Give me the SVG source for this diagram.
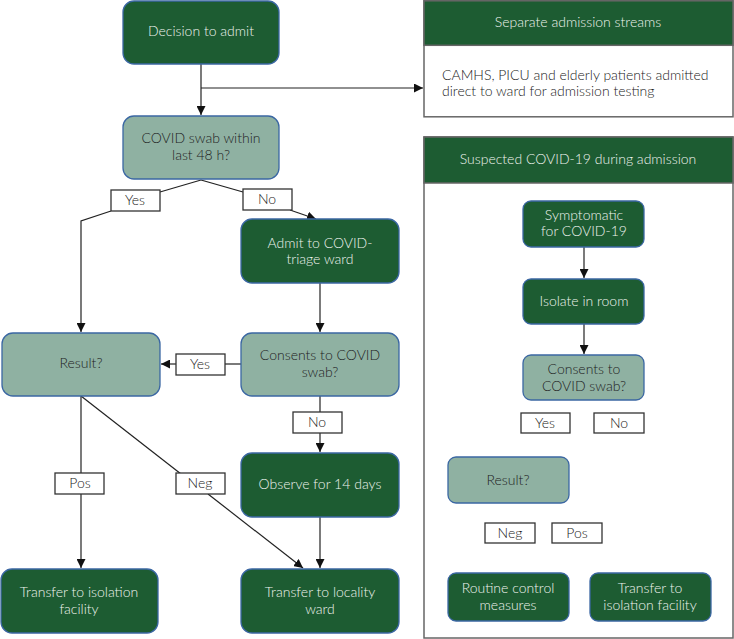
<svg xmlns="http://www.w3.org/2000/svg" width="734" height="639" viewBox="0 0 734 639">
<defs>
<marker id="ah" markerUnits="userSpaceOnUse" markerWidth="9" markerHeight="9" refX="9" refY="4.5" orient="auto" viewBox="0 0 9 9">
<path d="M0,0 L9,4.5 L0,9 z" fill="#111"/>
</marker>
<style>
text{font-family:Lato,"Open Sans","Liberation Sans",sans-serif;font-size:14px;font-weight:300;text-anchor:middle}
.dk rect{fill:#1d5c32;stroke:#3b67a3;stroke-width:1.3}
.dk text{fill:#eef3ee}
.lt rect{fill:#8fb1a2;stroke:#3b67a3;stroke-width:1.3}
.lt text{fill:#222}
.lb rect{fill:#fff;stroke:#333;stroke-width:1.3}
.lb text{fill:#222}
.pn rect.b{fill:#fff;stroke:#666;stroke-width:1.5}
.pn rect.h{fill:#1d5c32;stroke:#666;stroke-width:1.5}
.pn text.h{fill:#eef3ee}
.pn text.t{fill:#222;text-anchor:start}
#connectors path{fill:none;stroke:#222;stroke-width:1.2}
</style>
</defs>
<rect width="734" height="639" fill="#fff"/>

<g id="panel-separate" class="pn">
<rect class="b" x="424" y="0.8" width="309" height="116"/>
<rect class="h" x="424" y="0.8" width="309" height="44.5"/>
<text class="h" x="578" y="27">Separate admission streams</text>
<text class="t" x="442" y="80">CAMHS, PICU and elderly patients admitted</text>
<text class="t" x="442" y="96">direct to ward for admission testing</text>
</g>

<g id="panel-suspected" class="pn">
<rect class="b" x="424" y="137" width="309" height="501"/>
<rect class="h" x="424" y="137" width="309" height="46"/>
<text class="h" x="578" y="164">Suspected COVID-19 during admission</text>
</g>

<g id="connectors">
<path d="M201,64 V115" marker-end="url(#ah)"/>
<path d="M201,88 H423" marker-end="url(#ah)"/>
<path d="M201,180 L160,192"/>
<path d="M111,211 L81,221 V332" marker-end="url(#ah)"/>
<path d="M201,180 L243,192"/>
<path d="M290,210 L316,219" marker-end="url(#ah)"/>
<path d="M320,283 V332" marker-end="url(#ah)"/>
<path d="M241,364 H225"/>
<path d="M176,364 H161" marker-end="url(#ah)"/>
<path d="M320,396 V412"/>
<path d="M320,433 V452" marker-end="url(#ah)"/>
<path d="M320,517 V568" marker-end="url(#ah)"/>
<path d="M81,396 V473"/>
<path d="M81,494 V568" marker-end="url(#ah)"/>
<path d="M81,396 L181,474"/>
<path d="M208,494 L303,568" marker-end="url(#ah)"/>
<path d="M584,247 V278" marker-end="url(#ah)"/>
<path d="M584,324 V354" marker-end="url(#ah)"/>
</g>

<g id="decision" class="dk">
<rect x="123" y="1" width="156" height="63" rx="11"/>
<text x="201" y="36">Decision to admit</text>
</g>
<g id="swab48" class="lt">
<rect x="123" y="116" width="156" height="63" rx="11"/>
<text x="201" y="143">COVID swab within</text>
<text x="201" y="160">last 48 h?</text>
</g>
<g id="admit-triage" class="dk">
<rect x="241" y="219" width="158" height="64" rx="11"/>
<text x="320" y="248">Admit to COVID-</text>
<text x="320" y="264">triage ward</text>
</g>
<g id="result" class="lt">
<rect x="2" y="333" width="158" height="63" rx="11"/>
<text x="81" y="368">Result?</text>
</g>
<g id="consents" class="lt">
<rect x="241" y="333" width="158" height="63" rx="11"/>
<text x="320" y="360">Consents to COVID</text>
<text x="320" y="377">swab?</text>
</g>
<g id="observe" class="dk">
<rect x="241" y="453" width="158" height="64" rx="11"/>
<text x="320" y="489">Observe for 14 days</text>
</g>
<g id="transfer-isolation" class="dk">
<rect x="1" y="569" width="157" height="64" rx="11"/>
<text x="79" y="597">Transfer to isolation</text>
<text x="79" y="614">facility</text>
</g>
<g id="transfer-locality" class="dk">
<rect x="241" y="569" width="158" height="64" rx="11"/>
<text x="320" y="597">Transfer to locality</text>
<text x="320" y="614">ward</text>
</g>

<g id="lbl-yes1" class="lb"><rect x="111" y="190" width="49" height="21"/><text x="135" y="205">Yes</text></g>
<g id="lbl-no1" class="lb"><rect x="243" y="189" width="49" height="21"/><text x="267" y="204">No</text></g>
<g id="lbl-yes2" class="lb"><rect x="176" y="354" width="49" height="21"/><text x="200" y="369">Yes</text></g>
<g id="lbl-no2" class="lb"><rect x="293" y="412" width="49" height="21"/><text x="317" y="427">No</text></g>
<g id="lbl-pos1" class="lb"><rect x="55" y="473" width="49" height="21"/><text x="80" y="488">Pos</text></g>
<g id="lbl-neg1" class="lb"><rect x="176" y="473" width="49" height="21"/><text x="200" y="488">Neg</text></g>

<g id="symptomatic" class="dk">
<rect x="523" y="201" width="121" height="46" rx="8"/>
<text x="584" y="220">Symptomatic</text>
<text x="584" y="236">for COVID-19</text>
</g>
<g id="isolate" class="dk">
<rect x="523" y="279" width="121" height="45" rx="8"/>
<text x="584" y="306">Isolate in room</text>
</g>
<g id="consents2" class="lt">
<rect x="523" y="355" width="121" height="45" rx="8"/>
<text x="584" y="374">Consents to</text>
<text x="584" y="391">COVID swab?</text>
</g>
<g id="lbl-yes3" class="lb"><rect x="521" y="413" width="49" height="20"/><text x="545" y="428">Yes</text></g>
<g id="lbl-no3" class="lb"><rect x="594" y="413" width="50" height="20"/><text x="619" y="428">No</text></g>
<g id="result2" class="lt">
<rect x="448" y="457" width="121" height="46" rx="8"/>
<text x="508" y="485">Result?</text>
</g>
<g id="lbl-neg2" class="lb"><rect x="485" y="523" width="50" height="20"/><text x="510" y="538">Neg</text></g>
<g id="lbl-pos2" class="lb"><rect x="552" y="523" width="50" height="20"/><text x="577" y="538">Pos</text></g>
<g id="routine" class="dk">
<rect x="448" y="573" width="121" height="48" rx="8"/>
<text x="508" y="593">Routine control</text>
<text x="508" y="610">measures</text>
</g>
<g id="transfer-isolation2" class="dk">
<rect x="590" y="573" width="121" height="48" rx="8"/>
<text x="650" y="593">Transfer to</text>
<text x="650" y="610">isolation facility</text>
</g>
</svg>
